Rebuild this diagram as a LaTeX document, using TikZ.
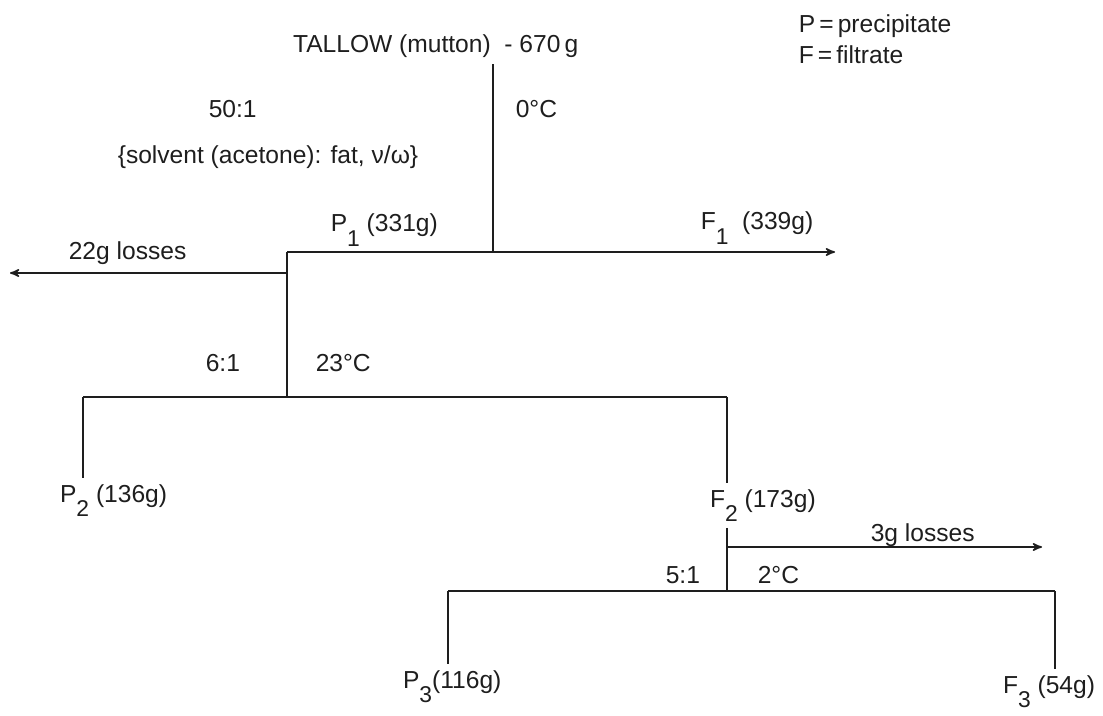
\documentclass[tikz,border=0pt]{standalone}
\usepackage{fontspec}
\setmainfont{Liberation Sans}
\usepackage{xcolor}
\usepackage{tikz}
\usetikzlibrary{arrows,positioning,calc}
\definecolor{inkgrey}{RGB}{30, 30, 30}
\newcommand{\fracfont}{\fontsize{14}{16}\selectfont}
\newcommand{\idx}[1]{\raisebox{-0.6em}{\fontsize{13}{13}\selectfont #1}}

\begin{document}
\begin{tikzpicture}[x=0.02cm, y=-0.02cm, >=stealth', line width=0.9pt, draw=inkgrey,
    every node/.style={font=\fracfont, text=inkgrey, inner sep=3pt},
    lbl/.style={anchor=base west, inner sep=0pt}]
    \useasboundingbox (0,0) rectangle (1103,716);

    % legend
    \node [lbl] (legP) at (798,33) {P\,=\,precipitate};
    \node [lbl] (legF) at (798,64) {F\,=\,filtrate};

    % starting material
    \node [anchor=base west] (tallow) at (287,53) {TALLOW (mutton) \ - 670\,g};
    \node [lbl] (temp1) at (515,118) {0°C};
    \node [lbl] (ratio1) at (208,118) {50:1};
    \node [lbl] (solvent) at (117,164) {\{solvent (acetone): fat, ν/ω\}};

    % first split
    \coordinate (s1) at (493,252);
    \coordinate (p1c) at (287,252);
    \coordinate (f1tip) at (835,252);
    \coordinate (l1) at (287,273);
    \coordinate (l1tip) at (10,273);
    \node [lbl] (p1) at (330,232) {P\idx{1} (331g)};
    \node [lbl] (f1) at (700,230) {F\idx{1} \ (339g)};
    \node [lbl] (loss1) at (68,260) {22g losses};
    \draw (tallow.south -| s1) -- (s1);
    \draw [->] (p1c) -- (f1tip);
    \draw [->] (l1) -- (l1tip);

    % second split
    \coordinate (s2) at (287,397);
    \coordinate (p2c) at (83,397);
    \coordinate (f2c) at (727,397);
    \node [lbl] (ratio2) at (205,372) {6:1};
    \node [lbl] (temp2) at (315,372) {23°C};
    \node [anchor=base west] (p2) at (54,502) {P\idx{2} (136g)};
    \node [anchor=base west] (f2) at (704,507) {F\idx{2} (173g)};
    \draw (p1c) -- (s2);
    \draw (p2c) -- (f2c);
    \draw (p2c) -- (p2c |- p2.north);
    \draw (f2c) -- (f2c |- f2.north);

    % third split
    \coordinate (s3) at (727,591);
    \coordinate (l2) at (727,547);
    \coordinate (l2tip) at (1042,547);
    \coordinate (p3c) at (448,591);
    \coordinate (f3c) at (1055,591);
    \node [lbl] (loss2) at (870,541) {3g losses};
    \node [lbl] (ratio3) at (665,583) {5:1};
    \node [lbl] (temp3) at (757,583) {2°C};
    \node [anchor=base west] (p3) at (397,688) {P\idx{3}(116g)};
    \node [anchor=base west] (f3) at (997,693) {F\idx{3} (54g)};
    \draw (f2.south -| s3) -- (s3);
    \draw [->] (l2) -- (l2tip);
    \draw (p3c) -- (f3c);
    \draw (p3c) -- (p3c |- p3.north);
    \draw (f3c) -- (f3c |- f3.north);
\end{tikzpicture}
\end{document}
